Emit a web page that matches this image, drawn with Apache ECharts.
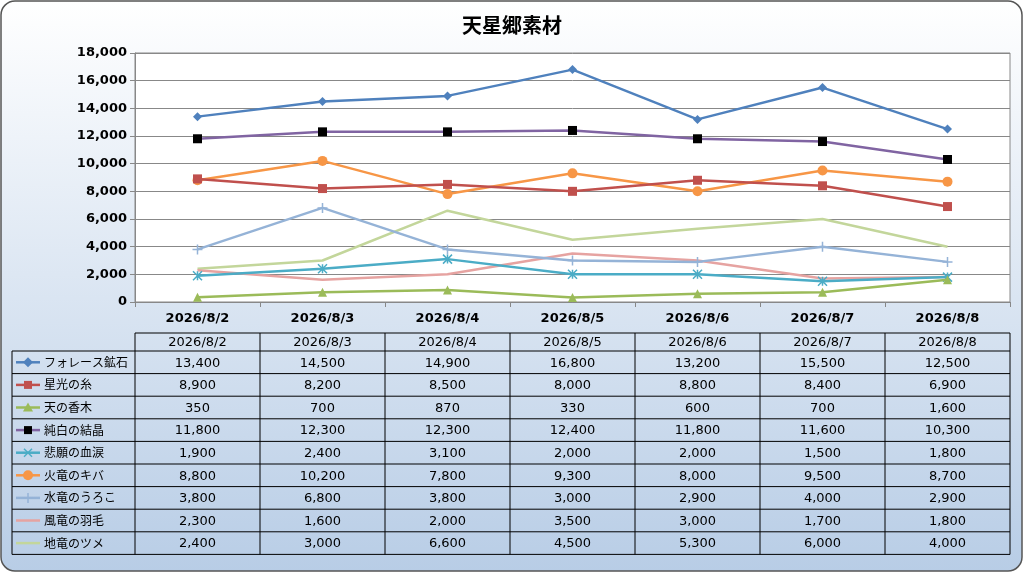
<!DOCTYPE html><html><head><meta charset="utf-8"><script src="https://cdn.jsdelivr.net/npm/echarts@6/dist/echarts.min.js"></script>
<style>html,body{margin:0;padding:0;background:#fff}#c{width:1024px;height:573px}</style></head><body><div id="c"></div><script>
const categories=['2026/8/2','2026/8/3','2026/8/4','2026/8/5','2026/8/6','2026/8/7','2026/8/8'];
const names=['フォレース鉱石','星光の糸','天の香木','純白の結晶','悲願の血涙','火竜のキバ','水竜のうろこ','風竜の羽毛','地竜のツメ'];
const forace=[13400,14500,14900,16800,13200,15500,12500];
const seikou=[8900,8200,8500,8000,8800,8400,6900];
const kouboku=[350,700,870,330,600,700,1600];
const junpaku=[11800,12300,12300,12400,11800,11600,10300];
const hirui=[1900,2400,3100,2000,2000,1500,1800];
const karyu=[8800,10200,7800,9300,8000,9500,8700];
const suiryu=[3800,6800,3800,3000,2900,4000,2900];
const furyu=[2300,1600,2000,3500,3000,1700,1800];
const chiryu=[2400,3000,6600,4500,5300,6000,4000];
const yTicks=[0,2000,4000,6000,8000,10000,12000,14000,16000,18000];
const all=[forace,seikou,kouboku,junpaku,hirui,karyu,suiryu,furyu,chiryu];
const lineColors=['#4F81BD','#C0504D','#9BBB59','#8064A2','#4BACC6','#F79646','#95B3D7','#E6A3A1','#C3D69B'];
const markColors=['#4F81BD','#C0504D','#9BBB59','#000000','#4BACC6','#F79646','#95B3D7','#E6A3A1','#C3D69B'];
const symbols=['diamond','rect','triangle','rect','path://M0,0L10,10M10,0L0,10M5,0L5,10','circle','path://M5,0L5,10M0,5L10,5','none','none'];
const symSize=[9,9,9,9,9,10,10,0,0];
const fmt=v=>v.toLocaleString('en-US');
const series=all.map((d,i)=>({name:names[i],type:'line',data:d,symbol:symbols[i],symbolSize:symSize[i],
 lineStyle:{color:lineColors[i],width:2.5},itemStyle:{color:markColors[i],borderColor:markColors[i],borderWidth:(i==4||i==6)?1.5:0},z:10-i}));
const g=[];
const X0=12,X1=135,CW=125,TY=333,HH=18,RH=22.6;
const nc=categories.length;
const stroke='#000';
categories.forEach((c,j)=>{g.push({type:'text',x:X1+CW*j+CW/2,y:TY+HH/2+1,style:{text:c,font:'13px "DejaVu Sans"',fill:'#000',align:'center',verticalAlign:'middle'}});});
names.forEach((n,i)=>{const y=TY+HH+RH*i+RH/2;
 const col=lineColors[i];
 g.push({type:'line',shape:{x1:16,y1:y,x2:40,y2:y},style:{stroke:col,lineWidth:2.5}});
 const mc=markColors[i],cx=28;
 if(i==0)g.push({type:'polygon',shape:{points:[[cx,y-5],[cx+5,y],[cx,y+5],[cx-5,y]]},style:{fill:mc}});
 if(i==1||i==3)g.push({type:'rect',shape:{x:cx-4,y:y-4,width:8,height:8},style:{fill:mc}});
 if(i==2)g.push({type:'polygon',shape:{points:[[cx,y-5],[cx+5,y+4],[cx-5,y+4]]},style:{fill:mc}});
 if(i==4){g.push({type:'line',shape:{x1:cx-4,y1:y-4,x2:cx+4,y2:y+4},style:{stroke:mc,lineWidth:1.5}});g.push({type:'line',shape:{x1:cx+4,y1:y-4,x2:cx-4,y2:y+4},style:{stroke:mc,lineWidth:1.5}});}
 if(i==5)g.push({type:'circle',shape:{cx:cx,cy:y,r:5},style:{fill:mc}});
 if(i==6){g.push({type:'line',shape:{x1:cx,y1:y-5,x2:cx,y2:y+5},style:{stroke:mc,lineWidth:1.5}});g.push({type:'line',shape:{x1:cx-5,y1:y,x2:cx+5,y2:y},style:{stroke:mc,lineWidth:1.5}});}
 g.push({type:'text',x:44,y:y,style:{text:n,font:'12px "Noto Sans CJK JP"',fill:'#000',verticalAlign:'middle'}});
 all[i].forEach((v,j)=>g.push({type:'text',x:X1+CW*j+CW/2,y:y+1,style:{text:fmt(v),font:'13px "DejaVu Sans"',fill:'#000',align:'center',verticalAlign:'middle'}}));
});
const TB=TY+HH+RH*names.length;
g.push({type:'line',shape:{x1:X1,y1:TY,x2:X1+CW*nc,y2:TY},style:{stroke,lineWidth:1}});
for(let i=0;i<=names.length;i++){const y=TY+HH+RH*i;g.push({type:'line',shape:{x1:X0,y1:y,x2:X1+CW*nc,y2:y},style:{stroke,lineWidth:1}});}
g.push({type:'line',shape:{x1:X0,y1:TY+HH,x2:X0,y2:TB},style:{stroke,lineWidth:1}});
for(let j=0;j<=nc;j++){g.push({type:'line',shape:{x1:X1+CW*j,y1:TY,x2:X1+CW*j,y2:TB},style:{stroke,lineWidth:1}});}
g.unshift({type:'rect',shape:{x:1,y:1,width:1021,height:570,r:14},style:{fill:new echarts.graphic.LinearGradient(0,0,0,1,[{offset:0,color:'#ffffff'},{offset:1,color:'#b8cde6'}]),stroke:'#555',lineWidth:1.5},z:-10});
g.splice(1,0,{type:'rect',shape:{x:X1,y:53,width:CW*nc,height:249},style:{fill:'#fff'},z:-5});
const chart=echarts.init(document.getElementById('c'));
chart.setOption({animation:false,
title:{text:'天星郷素材',left:'center',top:10,textStyle:{fontFamily:'Noto Sans CJK JP',fontSize:20,fontWeight:'bold',color:'#000'}},
grid:{left:X1,top:53,width:CW*nc,height:249,show:true,borderColor:'#888',borderWidth:1},
xAxis:{type:'category',data:categories,boundaryGap:true,axisLine:{lineStyle:{color:'#888'}},axisTick:{show:true,length:5,lineStyle:{color:'#888'}},axisLabel:{color:'#000',fontFamily:'DejaVu Sans',fontWeight:'bold',fontSize:13,margin:10}},
yAxis:{type:'value',min:yTicks[0],max:yTicks[yTicks.length-1],interval:2000,axisLine:{show:true,lineStyle:{color:'#888'}},axisTick:{show:true,lineStyle:{color:'#888'}},splitLine:{lineStyle:{color:'#888'}},axisLabel:{formatter:v=>fmt(v),color:'#000',fontFamily:'DejaVu Sans',fontWeight:'bold',fontSize:13}},
graphic:g,series:series});
</script></body></html>
